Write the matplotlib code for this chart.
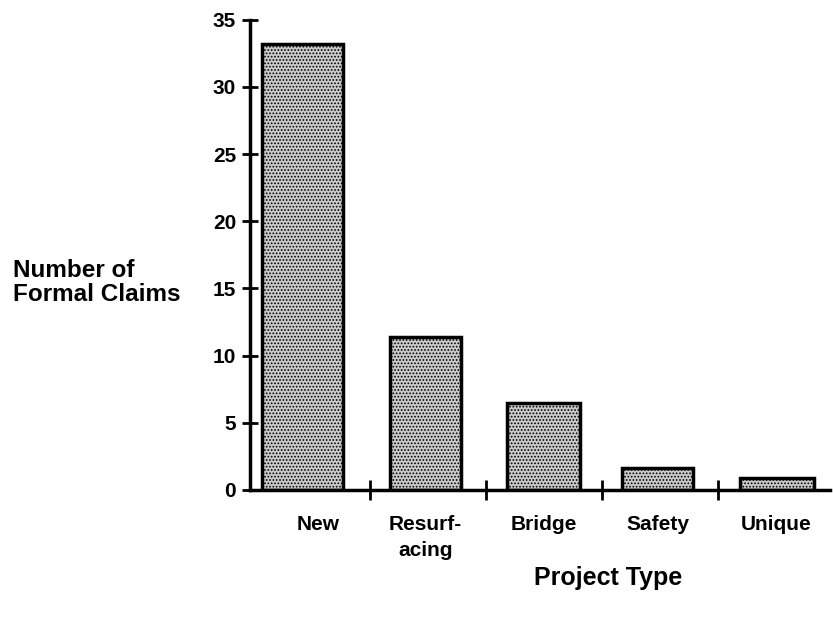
import matplotlib
matplotlib.use("Agg")
import matplotlib.pyplot as plt
import numpy as np

categories = ["New", "Resurf-\nacing", "Bridge", "Safety", "Unique"]
claims = [33.2, 11.4, 6.5, 1.6, 0.9]
yticks = [0, 5, 10, 15, 20, 25, 30, 35]

# style: bar widths and small offsets from the category centre
bar_widths = [0.70, 0.62, 0.63, 0.61, 0.64]
bar_offsets = [-0.08, -0.02, 0.0, -0.02, 0.01]
label_offsets = [0.05, -0.02, 0.0, -0.02, 0.0]

plt.rcParams['font.family'] = ['Liberation Sans', 'DejaVu Sans']
plt.rcParams['font.weight'] = 'bold'
plt.rcParams['hatch.color'] = '#5a5a5a'
plt.rcParams['hatch.linewidth'] = 0.8

fig = plt.figure(figsize=(8.33, 6.2), dpi=100)
ax = fig.add_axes([0.3001, 0.21, 0.696, 0.758])

x = np.arange(len(categories))
ax.bar(x + np.array(bar_offsets), claims, width=bar_widths, color='#cacaca',
       edgecolor='black', linewidth=2.5, hatch='.....', zorder=2)

ax.set_ylim(0, 35)
ax.set_xlim(-0.534, 4.466)
ax.set_yticks(yticks)
ax.set_yticklabels([str(t) for t in yticks], fontsize=15, fontweight='bold')
ax.set_xticks(x + np.array(label_offsets))
ax.set_xticklabels(categories, fontsize=15, fontweight='bold', va='top', linespacing=1.45)
ax.tick_params(axis='x', which='major', length=0, pad=18)
ax.set_xticks(x[:-1] + 0.5, minor=True)
ax.tick_params(axis='x', which='minor', direction='inout', length=14, width=2)
ax.tick_params(axis='y', which='major', direction='inout', length=12, width=2, pad=4)

for s in ['top', 'right']:
    ax.spines[s].set_visible(False)
for s in ['left', 'bottom']:
    ax.spines[s].set_linewidth(2.5)

fig.text(0.016, 0.545, "Number of\nFormal Claims", fontsize=17.5, fontweight='bold',
         ha='left', va='center', linespacing=1.05)
fig.text(0.73, 0.068, "Project Type", fontsize=18, fontweight='bold',
         ha='center', va='center')

fig.savefig("out.png", dpi=100)
